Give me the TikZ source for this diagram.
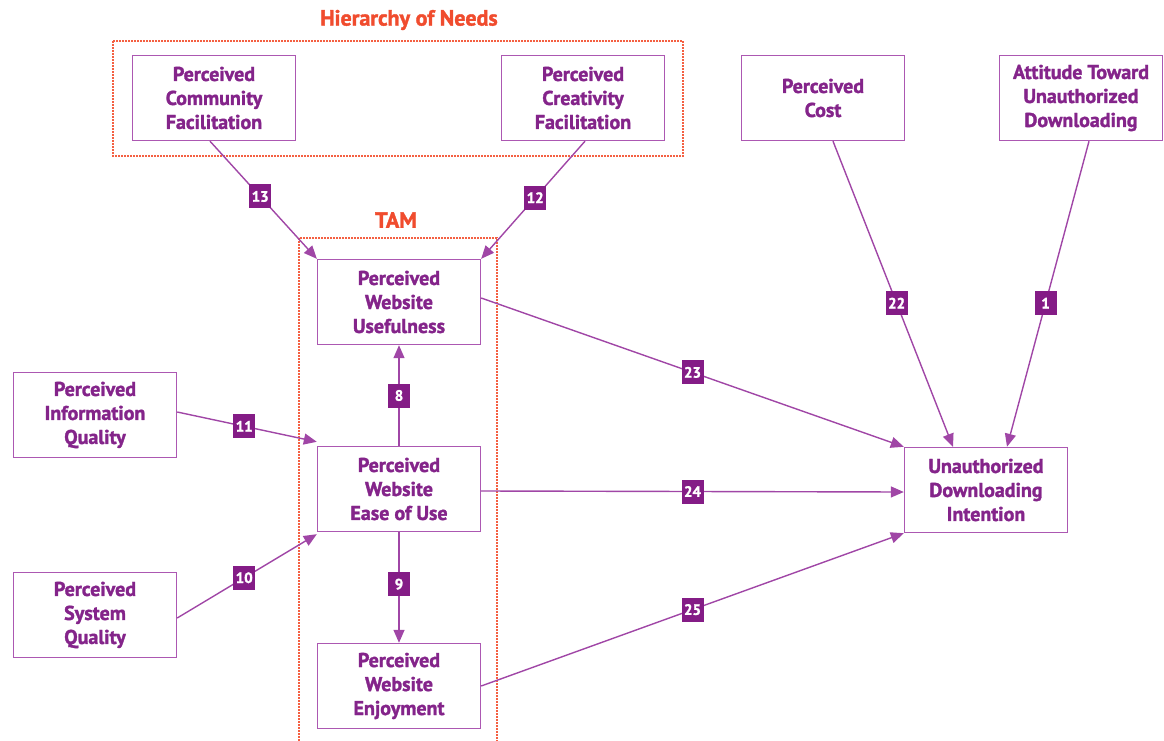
\documentclass[tikz,border=0pt]{standalone}
\usepackage{fontspec}
\setmainfont{PT Sans}[BoldFeatures={FakeBold=1.6}]
\usetikzlibrary{arrows.meta}
\definecolor{boxline}{RGB}{172,88,178}
\definecolor{txtcol}{RGB}{132,36,138}
\definecolor{tagcol}{RGB}{132,28,134}
\definecolor{linkcol}{RGB}{160,70,166}
\definecolor{grpcol}{RGB}{240,76,46}
\definecolor{grpline}{RGB}{244,96,66}
\tikzset{
  construct/.style={draw=boxline, line width=1.4pt, fill=white, text=txtcol,
    minimum width=163pt, minimum height=85pt, inner sep=0pt, align=center,
    font=\bfseries\fontsize{20}{24}\selectfont},
  tagbox/.style={fill=tagcol, text=white, minimum width=22pt, minimum height=24pt,
    inner sep=0pt, font=\bfseries\fontsize{15}{16}\selectfont},
  link/.style={draw=linkcol, line width=1.4pt, -{Triangle[length=13pt,width=11pt]}},
  group/.style={draw=grpline, line width=1.2pt, dash pattern=on 2pt off 1pt},
  grouptitle/.style={text=grpcol, font=\bfseries\fontsize{22}{24}\selectfont}
}
\begin{document}
\begin{tikzpicture}[x=1pt,y=-1pt]
\useasboundingbox (0,0) rectangle (1164,741);

% grouping frames
\draw[group] (113,41) rectangle (683,156);
\node[grouptitle] (hn) at (409,20) {Hierarchy of Needs};
\begin{scope}
\clip (0,0) rectangle (1164,741);
\draw[group] (299,238) rectangle (497,760);
\end{scope}
\node[grouptitle] (tam) at (396,220) {TAM};

% constructs
\node[construct] (cf) at (214,98) {Perceived\\Community\\Facilitation};
\node[construct] (cr) at (583,98) {Perceived\\Creativity\\Facilitation};
\node[construct] (pc) at (823,98) {Perceived\\Cost};
\node[construct] (at) at (1081,98) {Attitude Toward\\Unauthorized\\Downloading};
\node[construct] (pu) at (399,302) {Perceived\\Website\\Usefulness};
\node[construct] (pe) at (399,489) {Perceived\\Website\\Ease of Use};
\node[construct] (pj) at (399,686) {Perceived\\Website\\Enjoyment};
\node[construct] (iq) at (95,415) {Perceived\\Information\\Quality};
\node[construct] (sq) at (95,615) {Perceived\\System\\Quality};
\node[construct] (ud) at (986,490) {Unauthorized\\Downloading\\Intention};

% paths
\draw[link] ([xshift=-4pt]cf.south) -- (pu.north west) node[tagbox, pos=0.47] (t13) {13};
\draw[link] ([xshift=2pt]cr.south) -- (pu.north east) node[tagbox, pos=0.48] (t12) {12};
\draw[link] (pe.north) -- (pu.south) node[tagbox, midway] (t8) {8};
\draw[link] (pe.south) -- (pj.north) node[tagbox, pos=0.47] (t9) {9};
\draw[link] ([yshift=3pt]iq.east) -- ([yshift=4pt]pe.north west) node[tagbox, pos=0.48] (t11) {11};
\draw[link] ([yshift=-3pt]sq.east) -- ([yshift=-2pt]pe.south west) node[tagbox, pos=0.48] (t10) {10};
\draw[link] ([yshift=4pt]pu.east) -- (ud.north west) node[tagbox, midway] (t23) {23};
\draw[link] ([yshift=-2pt]pe.east) -- ([yshift=-2pt]ud.west) node[tagbox, midway] (t24) {24};
\draw[link] (pj.east) -- (ud.south west) node[tagbox, midway] (t25) {25};
\draw[link] ([xshift=10pt]pc.south) -- ([xshift=-33pt]ud.north) node[tagbox, pos=0.53] (t22) {22};
\draw[link] ([xshift=8pt]at.south) -- ([xshift=21pt]ud.north) node[tagbox, pos=0.53] (t1) {1};
\end{tikzpicture}
\end{document}
